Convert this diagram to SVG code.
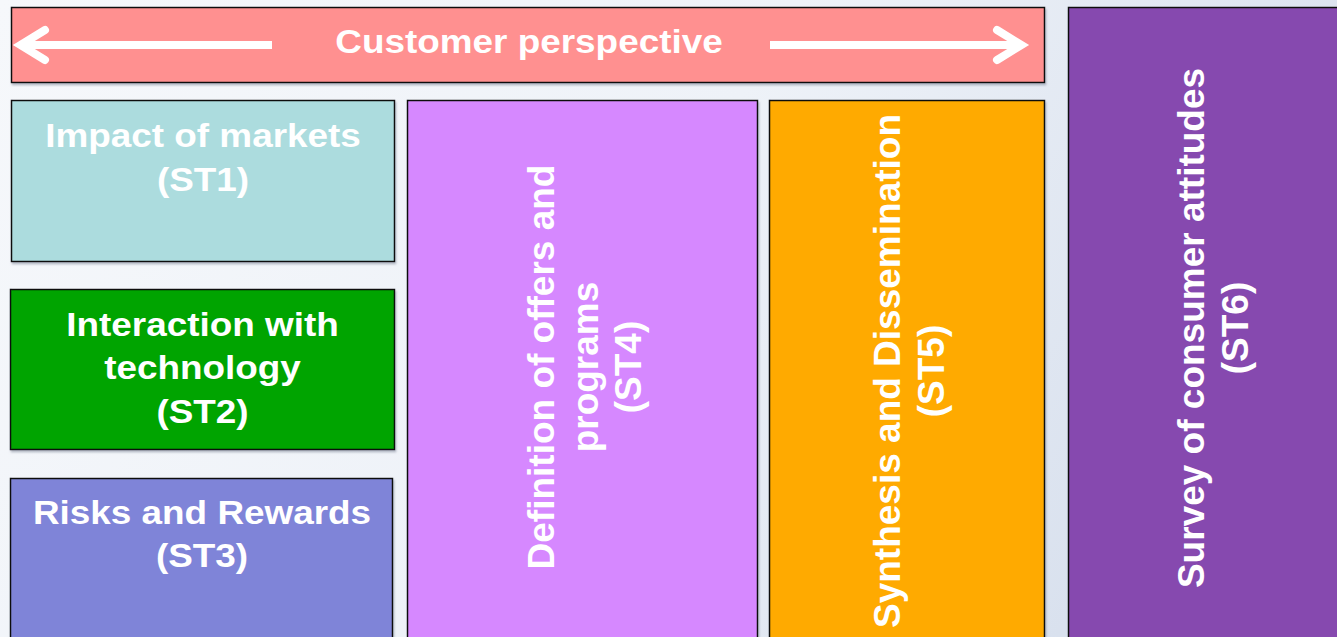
<svg xmlns="http://www.w3.org/2000/svg" width="1337" height="637" viewBox="0 0 1337 637">
  <defs>
    <linearGradient id="bg" x1="0" y1="0" x2="1" y2="0.3">
      <stop offset="0" stop-color="#f6f8fb"/>
      <stop offset="0.55" stop-color="#eef2f8"/>
      <stop offset="1" stop-color="#d9e1ee"/>
    </linearGradient>
    <filter id="sh" x="-5%" y="-5%" width="110%" height="110%">
      <feGaussianBlur in="SourceAlpha" stdDeviation="1"/>
      <feOffset dx="1" dy="1.5" result="b"/>
      <feFlood flood-color="#7a8294" flood-opacity="0.55"/>
      <feComposite in2="b" operator="in"/>
      <feMerge><feMergeNode/><feMergeNode in="SourceGraphic"/></feMerge>
    </filter>
  </defs>
  <style>
    .box { stroke: #111; stroke-width: 1.5; filter: url(#sh); }
    .lbl { font-family: "Liberation Sans", Arial, sans-serif; font-weight: bold; font-size: 34px; fill: #ffffff; text-anchor: middle; }
    .vlbl { font-family: "Liberation Sans", Arial, sans-serif; font-weight: bold; font-size: 37px; fill: #ffffff; text-anchor: middle; }
    .arr { fill: none; stroke: #ffffff; stroke-width: 8; }
  </style>
  <rect x="0" y="0" width="1337" height="637" fill="url(#bg)"/>

  <g id="banner">
    <rect class="box" x="11.5" y="7.5" width="1033" height="75" fill="#ff9090"/>
    <text class="lbl" transform="translate(529,53) scale(1.085,1)" x="0" y="0">Customer perspective</text>
  </g>

  <g id="st1">
    <rect class="box" x="11.5" y="100.5" width="383" height="161" fill="#acdcde"/>
    <text class="lbl" transform="translate(203,147) scale(1.085,1)"><tspan x="0" y="0">Impact of markets</tspan><tspan x="0" y="44">(ST1)</tspan></text>
  </g>

  <g id="st2">
    <rect class="box" x="10.5" y="289.5" width="384" height="160" fill="#00a400"/>
    <text class="lbl" transform="translate(202.5,336) scale(1.085,1)"><tspan x="0" y="0">Interaction with</tspan><tspan x="0" y="43.5">technology</tspan><tspan x="0" y="87">(ST2)</tspan></text>
  </g>

  <g id="st3">
    <rect class="box" x="10.5" y="478.5" width="382" height="170" fill="#7f84d8"/>
    <text class="lbl" transform="translate(202,524) scale(1.085,1)"><tspan x="0" y="0">Risks and Rewards</tspan><tspan x="0" y="43.5">(ST3)</tspan></text>
  </g>

  <g id="st4">
    <rect class="box" x="407.5" y="100.5" width="350" height="548" fill="#d688ff"/>
    <text class="vlbl" transform="translate(554,367) rotate(-90)"><tspan x="0" y="0">Definition of offers and</tspan><tspan x="0" y="43.5">programs</tspan><tspan x="0" y="87">(ST4)</tspan></text>
  </g>

  <g id="st5">
    <rect class="box" x="769.5" y="100.5" width="275" height="548" fill="#ffaa00"/>
    <text class="vlbl" transform="translate(900,371) rotate(-90)"><tspan x="0" y="0">Synthesis and Dissemination</tspan><tspan x="0" y="43.5">(ST5)</tspan></text>
  </g>

  <g id="st6">
    <rect class="box" x="1068.5" y="7.5" width="280" height="641" fill="#8649af"/>
    <text class="vlbl" transform="translate(1204,328) rotate(-90)"><tspan x="0" y="0">Survey of consumer attitudes</tspan><tspan x="0" y="43.5">(ST6)</tspan></text>
  </g>

  <g id="connectors">
    <path class="arr" d="M272,45 H22"/>
    <path class="arr" d="M45,30 L20.5,45 L45,60" stroke-linecap="round" stroke-linejoin="miter"/>
    <path class="arr" d="M770,45 H1015"/>
    <path class="arr" d="M997,30 L1021.5,45 L997,60" stroke-linecap="round" stroke-linejoin="miter"/>
  </g>
</svg>
